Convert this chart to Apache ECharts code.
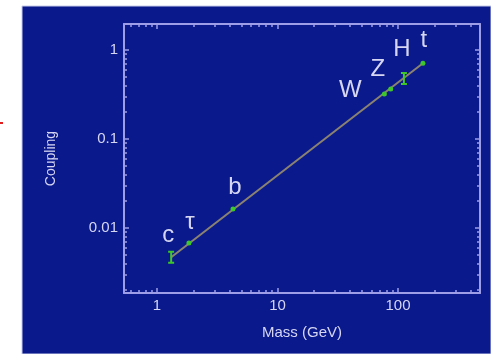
<!DOCTYPE html>
<html>
<head>
<meta charset="utf-8">
<script src="https://cdn.jsdelivr.net/npm/echarts@6/dist/echarts.min.js"></script>
<style>
html,body{margin:0;padding:0;background:#fff;}
#chart{width:491px;height:354px;}
</style>
</head>
<body>
<div id="chart"></div>
<script>
// particle labels, mass (GeV) and coupling
var names = ['c', 'τ', 'b', 'W', 'Z', 'H', 't'];
var masses = [1.31, 1.84, 4.27, 77, 87, 112, 161];
var couplings = [0.0047, 0.0068, 0.0163, 0.32, 0.365, 0.48, 0.71];
var barNames = ['c', 'H'];  // points drawn with a small error bar

var frameColor = '#9d9de8';
var textColor = '#d6d6f2';
var labelOffset = {c:[-3,-22], 'τ':[1,-21], b:[2,-22], W:[-34,-4], Z:[-13,-20], H:[-2,-29], t:[1,-23]};

var chart = echarts.init(document.getElementById('chart'));

function powLabel(v){
	var l = Math.log(v) / Math.LN10;
	if (Math.abs(l - Math.round(l)) > 1e-6) return '';
	var r = Math.round(l);
	return r >= 0 ? String(Math.pow(10, r)) : Math.pow(10, r).toFixed(-r);
}

function axisBase(pos, show){
	return {
		type: 'log',
		logBase: 10,
		position: pos,
		axisLine: {show: true, lineStyle: {color: frameColor, width: 2}},
		axisTick: {show: true, inside: true, length: 5, lineStyle: {color: frameColor, width: 1.5}},
		minorTick: {show: true, splitNumber: 9, length: 3, lineStyle: {color: frameColor, width: 1.5}},
		splitLine: {show: false},
		axisLabel: {show: show, color: textColor, fontFamily: 'Liberation Sans', fontSize: 15,
			formatter: powLabel, showMinLabel: false, showMaxLabel: false}
	};
}

var xBottom = axisBase('bottom', true);
xBottom.min = 0.532; xBottom.max = 479;
xBottom.axisLabel.margin = 5;
xBottom.name = 'Mass (GeV)';
xBottom.nameLocation = 'middle';
xBottom.nameGap = 32;
xBottom.nameTextStyle = {color: textColor, fontFamily: 'Liberation Sans', fontSize: 15};
var xTop = axisBase('top', false);
xTop.min = 0.532; xTop.max = 479;

var yLeft = axisBase('left', true);
yLeft.min = 0.00186; yLeft.max = 1.96;
yLeft.axisLabel.margin = 6;
yLeft.name = 'Coupling';
yLeft.nameLocation = 'middle';
yLeft.nameGap = 66;
yLeft.nameTextStyle = {color: textColor, fontFamily: 'Liberation Sans', fontSize: 14};
var yRight = axisBase('right', false);
yRight.min = 0.00186; yRight.max = 1.96;

var pts = [];
for (var i = 0; i < names.length; i++) {
	var off = labelOffset[names[i]];
	var isBar = barNames.indexOf(names[i]) >= 0;
	pts.push({
		name: names[i],
		value: [masses[i], couplings[i]],
		symbol: isBar ? 'path://M0,0 L6,0 L6,2 L4,2 L4,11 L6,11 L6,13 L0,13 L0,11 L2,11 L2,2 L0,2 Z' : 'circle',
		symbolSize: isBar ? [6, 13] : 5,
		label: {show: true, formatter: names[i], position: 'inside', offset: off,
			color: textColor, fontFamily: 'Liberation Sans', fontSize: 24}
	});
}
var last = names.length - 1;

var option = {
	animation: false,
	backgroundColor: '#fff',
	graphic: [
		{type: 'rect', z: -10, shape: {x: 22, y: 6, width: 469, height: 348}, style: {fill: '#0a1a8c', stroke: '#c8ccec', lineWidth: 1}},
		{type: 'rect', z: -10, shape: {x: 0, y: 122, width: 3, height: 2}, style: {fill: '#e02020'}}
	],
	grid: {left: 124, right: 11, top: 24, bottom: 61},
	xAxis: [xBottom, xTop],
	yAxis: [yLeft, yRight],
	series: [
		{
			type: 'line',
			data: [[masses[0], couplings[0]], [masses[last], couplings[last]]],
			symbol: 'none',
			lineStyle: {color: '#8c8270', width: 2},
			z: 2
		},
		{
			type: 'scatter',
			data: pts,
			itemStyle: {color: '#3fc62a', opacity: 1},
			z: 3
		}
	]
};
chart.setOption(option);
</script>
</body>
</html>
